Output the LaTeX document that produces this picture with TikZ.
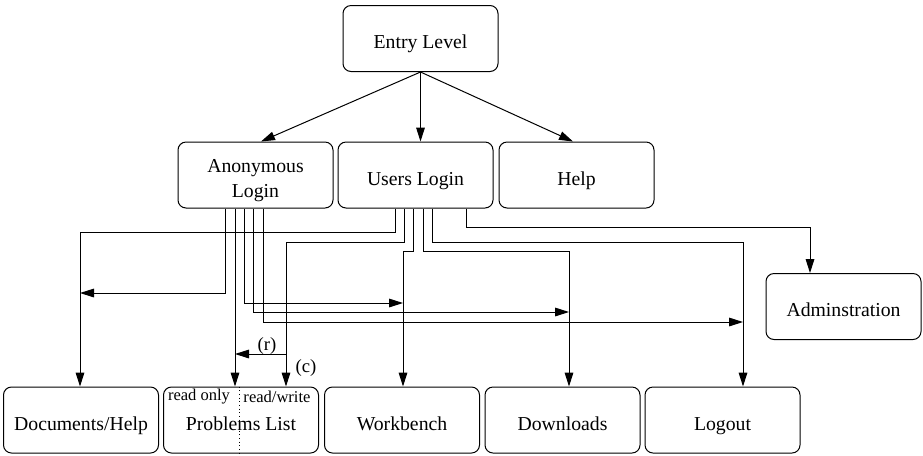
\documentclass[tikz,border=0pt]{standalone}
\usepackage{fontspec}
\setmainfont{Liberation Serif}
\usetikzlibrary{arrows.meta}
\newcommand\bxt[2]{\raisebox{#1}[0pt][0pt]{#2}}
\begin{document}
\begin{tikzpicture}[x=0.75pt,y=-0.75pt,
  box/.style={draw,rounded corners=6pt,line width=0.75pt,inner sep=0pt,
    minimum width=116.25pt,minimum height=49.5pt,
    font=\fontsize{14.8}{18.75}\selectfont},
  arr/.style={line width=0.75pt,-{Triangle[length=10.5pt,width=6.5pt]}},
  ln/.style={line width=0.75pt},
  small/.style={inner sep=0pt,font=\fontsize{12.4}{14}\selectfont},
  lab/.style={inner sep=0pt,font=\fontsize{14}{16}\selectfont}]
\useasboundingbox (0,0) rectangle (923,455);
% nodes
\node[box] (entry) at (420.5,38.5) {\bxt{-7.3pt}{Entry Level}};
\node[box] (anon) at (255.5,175) {\bxt{2.25pt}{\begin{tabular}[t]{@{}c@{}}Anonymous\\Login\end{tabular}}};
\node[box] (users) at (415.5,175) {\bxt{-7.5pt}{Users Login}};
\node[box] (help) at (576.5,175) {\bxt{-7.5pt}{Help}};
\node[box] (docs) at (81,420) {\bxt{-7.5pt}{Documents/Help}};
\node[box] (prob) at (241,420) {\bxt{-7.5pt}{Problems List}};
\node[box] (work) at (402,420) {\bxt{-7.5pt}{Workbench}};
\node[box] (down) at (562.5,420) {\bxt{-7.5pt}{Downloads}};
\node[box] (logout) at (722.5,420) {\bxt{-7.5pt}{Logout}};
\node[box] (admin) at (843.5,306.5) {\bxt{-7.5pt}{Adminstration}};
% problems list partition
\draw[ln,dotted] (239,0 |- prob.north) -- (239,0 |- prob.south);
\node[small] (ro) at (199,397) {read only};
\node[small] (rw) at (277,397) {read/write};
% entry level edges
\draw[arr] (entry.south) -- (261,0 |- anon.north);
\draw[arr] (entry.south) -- (420.5,0 |- users.north);
\draw[arr] (entry.south) -- (573,0 |- help.north);
% free ends
\coordinate (docA) at (80,293);
\coordinate (workA) at (403,303);
\coordinate (downA) at (569,312);
\coordinate (logA) at (743,322);
\coordinate (rstart) at (286,354);
\coordinate (rend) at (235,354);
% anonymous login edges
\draw[arr] (225,0 |- anon.south) |- (docA);
\draw[arr] (235,0 |- anon.south) -- (235,0 |- prob.north);
\draw[arr] (244,0 |- anon.south) |- (workA);
\draw[arr] (253,0 |- anon.south) |- (downA);
\draw[arr] (263,0 |- anon.south) |- (logA);
% users login edges
\draw[arr] (395,0 |- users.south) |- (80,232) -- (80,0 |- docs.north);
\draw[arr] (404,0 |- users.south) |- (286,242) -- (286,0 |- prob.north);
\draw[arr] (413,0 |- users.south) |- (403,251) -- (403,0 |- work.north);
\draw[arr] (423,0 |- users.south) |- (569,251) -- (569,0 |- down.north);
\draw[arr] (432,0 |- users.south) |- (743,242) -- (743,0 |- logout.north);
\draw[arr] (466,0 |- users.south) |- (810,227) -- (810,0 |- admin.north);
% read arrow and labels
\draw[arr] (rstart) -- (rend);
\node[lab] (rl) at (267,346) {(r)};
\node[lab] (cl) at (306,368) {(c)};
\end{tikzpicture}
\end{document}
